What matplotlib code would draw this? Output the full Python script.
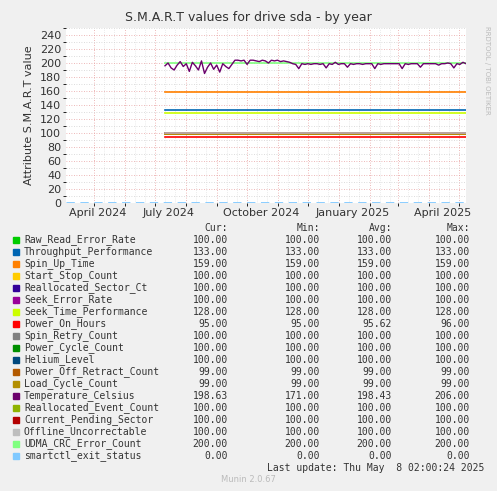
import matplotlib
matplotlib.use("Agg")
import matplotlib.pyplot as plt
import numpy as np
import datetime as dt

names = ["Raw_Read_Error_Rate","Throughput_Performance","Spin_Up_Time","Start_Stop_Count",
 "Reallocated_Sector_Ct","Seek_Error_Rate","Seek_Time_Performance","Power_On_Hours",
 "Spin_Retry_Count","Power_Cycle_Count","Helium_Level","Power_Off_Retract_Count",
 "Load_Cycle_Count","Temperature_Celsius","Reallocated_Event_Count","Current_Pending_Sector",
 "Offline_Uncorrectable","UDMA_CRC_Error_Count","smartctl_exit_status"]
cur = [100,133,159,100,100,100,128,95,100,100,100,99,99,198.63,100,100,100,200,0]
mins = [100,133,159,100,100,100,128,95,100,100,100,99,99,171,100,100,100,200,0]
avgs = [100,133,159,100,100,100,128,95.62,100,100,100,99,99,198.43,100,100,100,200,0]
maxs = [100,133,159,100,100,100,128,96,100,100,100,99,99,206,100,100,100,200,0]
colors = ["#00CC00","#0066B3","#FF8000","#FFCC00","#330099","#990099","#CCFF00","#FF0000",
 "#808080","#008F00","#00487D","#B35A00","#B38F00","#6B006B","#8FB300","#B30000",
 "#BEBEBE","#80FF80","#80C9FF"]
# temperature every 3 days from 2024-07-11
temp = [196,200,193,190,197,202,195,199,188,201,196,190,203,185,194,200,191,197,187,199,
        195,192,198,204,204,203,204,198,204,204,203,202,204,203,200,204,203,204,202,203,
        202,201,199,198,192,199,198,199,198,199,199,198,199,193,199,198,201,198,199,199,
        194,199,198,199,199,198,199,199,199,192,199,198,199,199,199,199,199,199,192,199,
        198,199,199,199,194,199,199,199,199,199,197,199,199,200,199,193,199,198,201,199]

start = dt.date(2024,7,11)
left = dt.date(2024,4,3); right = dt.date(2025,5,8)
d0 = (start-left).days; d1 = (right-left).days
tx = np.linspace(d0, d1, len(temp))

fig = plt.figure(figsize=(4.97,4.91), dpi=100, facecolor="#F0F0F0")
ax = fig.add_axes([66/497, (491-203)/491, 400/497, 175/491])
ax.set_facecolor("white")
ax.set_xlim(0, 400); ax.set_ylim(0, 250)
for i in range(len(names)):
    if i == 13:
        ax.plot(tx, temp, color=colors[i], lw=1, zorder=3)
    elif i == 18:
        ax.plot([0,400],[0,0], color=colors[i], lw=2, ls=(0,(3,2)), zorder=3)
    else:
        ax.plot([d0,d1],[cur[i],cur[i]], color=colors[i], lw=1.2, zorder=2)
ax.set_yticks(range(0,241,20))
ax.set_yticks(range(0,251,10), minor=True)
months = []
y, m = 2024, 5
while (y, m) <= (2025, 5):
    months.append((dt.date(y,m,1)-left).days)
    m += 1
    if m > 12: y, m = y+1, 1
ax.set_xticks(months, minor=True)
lab = [("April 2024",dt.date(2024,4,1)),("July 2024",dt.date(2024,7,1)),
       ("October 2024",dt.date(2024,10,1)),("January 2025",dt.date(2025,1,1)),("April 2025",dt.date(2025,4,1))]
ax.set_xticks([max((d-left).days+14, 32) for _,d in lab])
ax.set_xticklabels([l for l,_ in lab])
ax.grid(which="minor", axis="y", color="#D0D0D0", ls=(0,(1,2)), lw=0.6)
ax.grid(which="major", axis="y", color="#E8A0A0", ls=(0,(1,2)), lw=0.6)
for mm in months:
    ax.axvline(mm, color="#E8A0A0", ls=(0,(1,2)), lw=0.6, zorder=0)
    for k in (10, 20):
        ax.axvline(mm+k, color="#D8D8D8", ls=(0,(1,2)), lw=0.5, zorder=0)
ax.tick_params(labelsize=8, colors="#333333", length=0)
for s in ax.spines.values(): s.set_visible(False)
ax.set_ylabel("Attribute S.M.A.R.T value", fontsize=8, color="#333333")
fig.text(0.5, 1-18/491, "S.M.A.R.T values for drive sda - by year", ha="center", va="center", fontsize=9, color="#333333")
fig.text(487/497, 1-70/491, "RRDTOOL / TOBI OETIKER", rotation=270, ha="center", va="center", fontsize=5, color="#BBBBBB")

mono = dict(family="DejaVu Sans Mono", fontsize=7, color="#333333", va="center")
def Y(p): return 1-p/491
cols = [228,320,392,470]
for c, h in zip(cols, ["Cur:","Min:","Avg:","Max:"]):
    fig.text(c/497, Y(228), h, ha="right", **mono)
for i in range(len(names)):
    yy = Y(240+12*i)
    fig.patches.append(plt.Rectangle((13/497, yy-3/491), 6/497, 6/491, transform=fig.transFigure, color=colors[i]))
    fig.text(24/497, yy, names[i], ha="left", **mono)
    for c, v in zip(cols, [cur[i],mins[i],avgs[i],maxs[i]]):
        fig.text(c/497, yy, f"{v:.2f}", ha="right", **mono)
fig.text(484/497, Y(468), "Last update: Thu May  8 02:00:24 2025", ha="right", **mono)
fig.text(0.5, Y(480), "Munin 2.0.67", ha="center", va="center", fontsize=6, color="#BBBBBB")
fig.savefig("out.png", dpi=100, facecolor=fig.get_facecolor())
